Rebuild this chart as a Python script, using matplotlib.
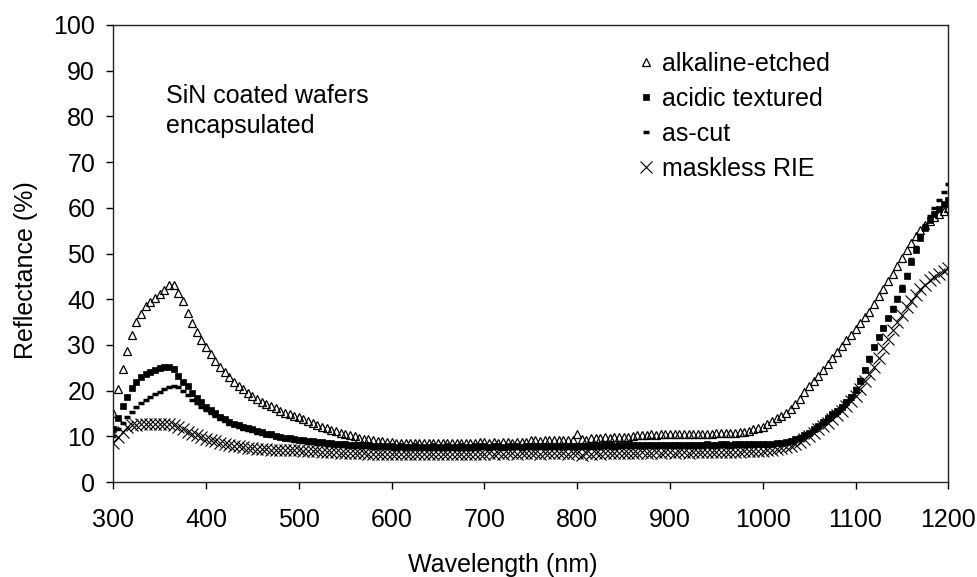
import numpy as np
import matplotlib
matplotlib.use("Agg")
import matplotlib.pyplot as plt

plt.rcParams['font.family'] = ['Liberation Sans', 'DejaVu Sans']

wavelength = np.arange(300, 1201, 5)

alkaline_etched = [
    15.2, 20.3, 24.7, 28.7, 32.1, 35.0, 36.8, 38.5, 39.4, 40.2, 41.1, 42.0, 43.0, 43.0, 41.4, 39.5, 36.9, 34.7, 32.9, 31.1,
    29.5, 27.9, 26.5, 25.2, 24.1, 23.0, 21.9, 21.1, 20.3, 19.5, 18.8, 18.1, 17.6, 17.1, 16.6, 16.1, 15.6, 15.2, 14.9, 14.5,
    14.2, 13.8, 13.3, 12.9, 12.5, 12.1, 11.8, 11.4, 11.1, 10.8, 10.5, 10.2, 10.0, 9.7, 9.5, 9.3, 9.1, 9.0, 8.9, 8.8,
    8.7, 8.6, 8.6, 8.5, 8.6, 8.5, 8.5, 8.6, 8.5, 8.5, 8.6, 8.5, 8.5, 8.6, 8.5, 8.6, 8.5, 8.6, 8.6, 8.7,
    8.7, 8.6, 8.7, 8.6, 8.7, 8.7, 8.6, 8.7, 8.7, 8.8, 9.1, 9.1, 9.0, 9.1, 9.2, 9.1, 9.1, 9.2, 9.1, 9.2,
    10.6, 9.3, 9.2, 9.6, 9.7, 9.6, 9.8, 9.7, 9.9, 9.8, 9.9, 9.9, 10.0, 10.3, 10.2, 10.3, 10.4, 10.3, 10.4, 10.4,
    10.5, 10.4, 10.5, 10.5, 10.4, 10.5, 10.6, 10.5, 10.6, 10.6, 10.7, 10.7, 10.7, 10.8, 10.8, 10.9, 11.0, 11.2, 11.5, 11.8,
    12.0, 12.6, 13.3, 13.9, 14.5, 15.2, 16.0, 17.0, 18.2, 19.6, 20.9, 22.1, 23.3, 24.6, 25.9, 27.2, 28.5, 29.8, 31.0, 32.2,
    33.4, 34.7, 36.0, 37.3, 38.9, 40.6, 42.3, 44.0, 45.6, 47.3, 49.0, 50.7, 52.4, 53.9, 55.2, 56.3, 57.2, 58.0, 58.7, 59.3,
    59.9,
]

acidic_textured = [
    11.5, 13.9, 16.6, 18.7, 20.6, 21.9, 22.9, 23.6, 24.1, 24.5, 24.9, 25.1, 25.1, 24.7, 23.2, 21.9, 20.9, 19.4, 18.3, 17.4,
    16.5, 15.8, 15.0, 14.3, 13.7, 13.2, 12.7, 12.4, 12.1, 11.8, 11.5, 11.2, 10.9, 10.6, 10.4, 10.1, 9.9, 9.7, 9.6, 9.4,
    9.2, 9.1, 9.0, 8.9, 8.8, 8.7, 8.6, 8.5, 8.4, 8.4, 8.3, 8.2, 8.2, 8.1, 8.0, 8.0, 7.9, 7.9, 7.9, 7.8,
    7.8, 7.7, 7.8, 7.7, 7.7, 7.8, 7.7, 7.7, 7.7, 7.8, 7.7, 7.7, 7.8, 7.7, 7.7, 7.8, 7.7, 7.7, 7.8, 7.8,
    7.8, 7.7, 7.8, 7.8, 7.7, 7.8, 7.8, 7.8, 7.7, 7.8, 7.8, 7.9, 7.8, 7.8, 7.9, 7.8, 7.9, 7.9, 7.8, 7.9,
    7.9, 7.8, 7.9, 7.9, 8.0, 7.9, 8.0, 8.0, 7.9, 8.0, 8.0, 8.1, 8.0, 8.1, 8.1, 8.0, 8.1, 8.1, 8.2, 8.1,
    8.2, 8.1, 8.2, 8.2, 8.1, 8.2, 8.2, 8.2, 8.3, 8.2, 8.2, 8.3, 8.3, 8.2, 8.3, 8.3, 8.3, 8.3, 8.3, 8.3,
    8.3, 8.3, 8.4, 8.5, 8.6, 8.8, 9.0, 9.3, 9.7, 10.2, 10.8, 11.5, 12.3, 13.2, 14.0, 14.8, 15.6, 16.5, 17.5, 18.7,
    20.2, 22.2, 24.5, 27.0, 29.6, 31.8, 33.8, 35.8, 37.9, 40.0, 42.3, 45.0, 48.2, 50.8, 53.4, 55.6, 57.4, 58.7, 59.8, 60.8,
    61.7,
]

as_cut = [
    10.0, 11.5, 13.0, 14.3, 15.3, 16.5, 17.3, 18.0, 18.7, 19.3, 19.8, 20.3, 20.8, 21.0, 20.7, 20.0, 19.0, 18.0, 17.2, 16.4,
    15.7, 15.0, 14.4, 13.8, 13.3, 12.8, 12.4, 12.0, 11.7, 11.4, 11.1, 10.8, 10.5, 10.3, 10.0, 9.8, 9.6, 9.4, 9.2, 9.0,
    8.9, 8.8, 8.6, 8.5, 8.4, 8.3, 8.2, 8.1, 8.0, 7.9, 7.9, 7.8, 7.7, 7.7, 7.6, 7.6, 7.5, 7.5, 7.5, 7.4,
    7.4, 7.3, 7.4, 7.3, 7.3, 7.4, 7.3, 7.3, 7.3, 7.4, 7.3, 7.3, 7.4, 7.3, 7.3, 7.3, 7.4, 7.3, 7.3, 7.4,
    7.4, 7.3, 7.4, 7.4, 7.3, 7.4, 7.4, 7.4, 7.3, 7.4, 7.4, 7.5, 7.4, 7.4, 7.5, 7.4, 7.5, 7.5, 7.4, 7.5,
    7.5, 7.4, 7.5, 7.5, 7.6, 7.5, 7.6, 7.6, 7.5, 7.6, 7.6, 7.7, 7.6, 7.7, 7.7, 7.6, 7.7, 7.7, 7.8, 7.7,
    7.8, 7.7, 7.8, 7.8, 7.7, 7.8, 7.8, 7.8, 7.9, 7.8, 7.8, 7.9, 7.9, 7.8, 7.9, 7.9, 7.9, 8.0, 8.0, 8.0,
    8.0, 8.1, 8.2, 8.3, 8.5, 8.7, 8.9, 9.2, 9.6, 10.1, 10.7, 11.4, 12.2, 13.1, 14.0, 14.8, 15.7, 16.6, 17.7, 18.9,
    20.5, 22.5, 24.8, 27.3, 29.8, 32.0, 34.0, 36.0, 38.2, 40.4, 42.8, 45.6, 48.8, 51.5, 54.0, 56.2, 58.2, 60.0, 61.6, 63.4,
    65.2,
]

maskless_rie = [
    8.5, 9.9, 11.0, 12.0, 12.4, 12.5, 12.6, 12.6, 12.7, 12.6, 12.7, 12.6, 12.6, 12.5, 12.1, 11.5, 11.0, 10.6, 10.2, 9.9,
    9.5, 9.2, 8.9, 8.6, 8.4, 8.1, 7.9, 7.8, 7.6, 7.5, 7.4, 7.3, 7.3, 7.2, 7.1, 7.1, 7.0, 7.0, 6.9, 6.9,
    6.9, 6.8, 6.8, 6.7, 6.7, 6.6, 6.6, 6.5, 6.5, 6.4, 6.4, 6.4, 6.3, 6.3, 6.3, 6.2, 6.2, 6.2, 6.2, 6.1,
    6.1, 6.2, 6.1, 6.2, 6.1, 6.2, 6.1, 6.2, 6.2, 6.1, 6.2, 6.2, 6.1, 6.2, 6.2, 6.1, 6.2, 6.2, 6.2, 6.2,
    6.2, 6.3, 6.2, 6.3, 6.2, 6.3, 6.3, 6.2, 6.3, 6.3, 6.3, 6.3, 6.2, 6.3, 6.3, 6.3, 6.3, 6.3, 6.2, 6.3,
    6.3, 5.9, 6.3, 6.1, 6.4, 6.2, 6.4, 6.3, 6.4, 6.4, 6.3, 6.4, 6.4, 6.3, 6.5, 6.4, 6.4, 6.5, 6.4, 6.5,
    6.5, 6.4, 6.5, 6.5, 6.4, 6.5, 6.5, 6.5, 6.6, 6.5, 6.6, 6.6, 6.5, 6.6, 6.6, 6.6, 6.7, 6.7, 6.7, 6.8,
    6.8, 6.9, 7.0, 7.2, 7.4, 7.6, 7.9, 8.3, 8.8, 9.4, 10.1, 10.8, 11.5, 12.2, 13.0, 13.8, 14.6, 15.5, 16.6, 17.7,
    18.9, 20.4, 22.0, 23.6, 25.2, 27.2, 29.3, 31.3, 33.2, 35.0, 36.6, 38.2, 39.7, 41.0, 42.2, 43.2, 44.1, 44.9, 45.6, 46.2,
    46.8,
]

series_labels = ["alkaline-etched", "acidic textured", "as-cut", "maskless RIE"]
x_ticks = [300, 400, 500, 600, 700, 800, 900, 1000, 1100, 1200]
y_ticks = [0, 10, 20, 30, 40, 50, 60, 70, 80, 90, 100]

FS = 18
fig = plt.figure(figsize=(9.77, 5.77), dpi=100)
ax = fig.add_axes([113.3 / 977, 1 - 482 / 577, (948.3 - 113.3) / 977, (482 - 25) / 577])

h_rie, = ax.plot(wavelength, maskless_rie, linestyle='none', marker='x', markersize=8,
                 markeredgewidth=0.8, color='black', label=series_labels[3])
h_cut, = ax.plot(wavelength, as_cut, linestyle='none', marker='_', markersize=5,
                 markeredgewidth=2.5, color='black', label=series_labels[2])
h_acid, = ax.plot(wavelength, acidic_textured, linestyle='none', marker='s', markersize=4.4,
                  markeredgewidth=0.5, color='black', label=series_labels[1])
h_alk, = ax.plot(wavelength, alkaline_etched, linestyle='none', marker='^', markersize=5.3,
                 markeredgewidth=0.9, markerfacecolor='none', markeredgecolor='black',
                 label=series_labels[0])

ax.set_xlim(300, 1200)
ax.set_ylim(0, 100)
ax.set_xticks(x_ticks)
ax.set_yticks(y_ticks)
ax.tick_params(axis='both', direction='out', length=5, width=1, labelsize=FS, colors='black')
ax.tick_params(axis='x', pad=14)
ax.tick_params(axis='y', pad=8)
ax.tick_params(top=False, right=False)
for s in ax.spines.values():
    s.set_linewidth(1)
    s.set_color('#222222')

ax.set_xlabel("Wavelength (nm)", fontsize=FS)
ax.set_ylabel("Reflectance (%)", fontsize=FS)
ax.xaxis.set_label_coords((503 - 113.3) / 835, (482 - 553) / 457)
ax.yaxis.set_label_coords((38 - 113.3) / 835, (482 - 270) / 457)

fig.text(166 / 977, 1 - 84 / 577, "SiN coated wafers\nencapsulated", fontsize=FS,
         ha='left', va='top', linespacing=1.3)

leg = ax.legend(handles=[h_alk, h_acid, h_cut, h_rie], loc='upper left',
                bbox_to_anchor=((638 - 113.3) / 835, (482 - 52) / 457),
                frameon=False, fontsize=FS, handlelength=0.6, handletextpad=0.35,
                labelspacing=0.44, borderpad=0, borderaxespad=0, numpoints=1)

fig.savefig("out.png", dpi=100)
